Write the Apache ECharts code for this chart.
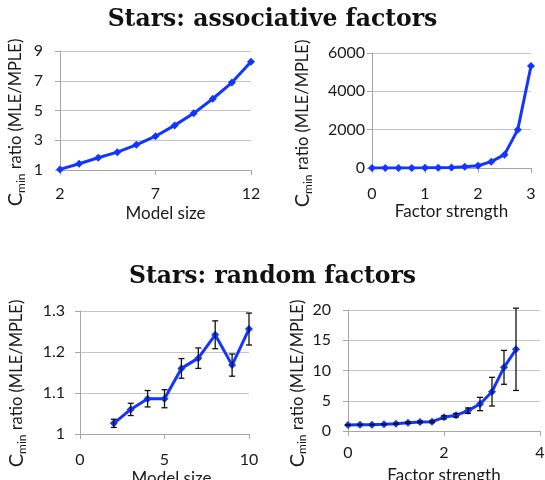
<!DOCTYPE html>
<html>
<head>
<meta charset="utf-8">
<script src="https://cdn.jsdelivr.net/npm/echarts@6/dist/echarts.min.js"></script>
<style>
html,body{margin:0;padding:0;background:#fff;}
#c{width:545px;height:480px;}
</style>
</head>
<body>
<div id="c"></div>
<script>
// ---- data ----
const titles = ['Stars: associative factors', 'Stars: random factors'];
const yName = 'C_min ratio (MLE/MPLE)';
const xNameSize = 'Model size';
const xNameStrength = 'Factor strength';

const sizeA = [2, 3, 4, 5, 6, 7, 8, 9, 10, 11, 12];
const ratioA = [1.04, 1.42, 1.82, 2.2, 2.69, 3.27, 4.0, 4.81, 5.79, 6.88, 8.28];

const strengthB = [0, 0.25, 0.5, 0.75, 1, 1.25, 1.5, 1.75, 2, 2.25, 2.5, 2.75, 3];
const ratioB = [1, 2, 3, 5, 8, 15, 30, 60, 120, 330, 696, 2000, 5320];

const sizeC = [2, 3, 4, 5, 6, 7, 8, 9, 10];
const ratioC = [1.026, 1.060, 1.086, 1.086, 1.160, 1.185, 1.242, 1.168, 1.256];
const errC = [0.010, 0.015, 0.020, 0.022, 0.024, 0.025, 0.034, 0.027, 0.039];

const strengthD = [0, 0.25, 0.5, 0.75, 1, 1.25, 1.5, 1.75, 2, 2.25, 2.5, 2.75, 3, 3.25, 3.5];
const ratioD = [1.0, 1.05, 1.05, 1.1, 1.2, 1.38, 1.49, 1.54, 2.26, 2.59, 3.36, 4.46, 6.5, 10.52, 13.5];
const errD = [0.05, 0.05, 0.05, 0.05, 0.08, 0.1, 0.12, 0.15, 0.25, 0.3, 0.45, 1.1, 2.37, 2.8, 6.8];

// ---- styles ----
const LINE = '#1236ff';
const TXT = '#1a1a1a';
const FONT = 'Lato';
const GRIDC = '#c4c4c4';
const AXISC = '#a6a6a6';

const chart = echarts.init(document.getElementById('c'), null, {renderer: 'canvas'});

function pairs(xs, ys) { return xs.map((x, i) => [x, ys[i]]); }
function errPairs(xs, ys, es) { return xs.map((x, i) => [x, ys[i] - es[i], ys[i] + es[i]]); }
function plain(v) { return String(Math.round(v * 1000) / 1000); }

function yNameRich() {
  const parts = yName.split('_');
  const sub = parts[1].split(' ')[0];
  const rest = parts[1].slice(sub.length);
  return '{c|' + parts[0] + '}{s|' + sub + '}{r|' + rest + '}';
}

function xAxis(idx, min, max, interval, name, margin, nameGap, padLeft) {
  return {
    gridIndex: idx, type: 'value', min: min, max: max, interval: interval,
    name: name, nameLocation: 'middle', nameGap: nameGap,
    nameTextStyle: {fontFamily: FONT, fontSize: 17, color: TXT, padding: [0, 0, 0, padLeft]},
    axisLine: {show: true, lineStyle: {color: AXISC, width: 1}},
    axisTick: {show: true, inside: false, length: 5, lineStyle: {color: AXISC}},
    splitLine: {show: false},
    axisLabel: {fontFamily: FONT, fontSize: 16, color: TXT, margin: margin, formatter: plain}
  };
}
function yAxis(idx, min, max, interval, margin, nameGap, padRight) {
  return {
    gridIndex: idx, type: 'value', min: min, max: max, interval: interval,
    name: yNameRich(), nameLocation: 'middle', nameGap: nameGap, nameRotate: 90,
    nameTextStyle: {
      fontFamily: FONT, color: TXT, padding: [0, padRight, 0, 0],
      rich: {
        c: {fontFamily: FONT, fontSize: 20, color: TXT, lineHeight: 22},
        s: {fontFamily: FONT, fontSize: 12, color: TXT, lineHeight: 11, verticalAlign: 'bottom'},
        r: {fontFamily: FONT, fontSize: 16.5, color: TXT, lineHeight: 22}
      }
    },
    axisLine: {show: true, lineStyle: {color: AXISC, width: 1}},
    axisTick: {show: true, inside: false, length: 5, lineStyle: {color: AXISC}},
    splitLine: {show: true, lineStyle: {color: GRIDC, width: 1}},
    axisLabel: {fontFamily: FONT, fontSize: 16, color: TXT, margin: margin, formatter: plain}
  };
}
function lineSeries(idx, data) {
  return {
    type: 'line', xAxisIndex: idx, yAxisIndex: idx, data: data,
    symbol: 'diamond', symbolSize: 8, showSymbol: true,
    lineStyle: {color: LINE, width: 3},
    itemStyle: {color: LINE},
    z: 3, animation: false
  };
}
function errSeries(idx, data) {
  return {
    type: 'custom', xAxisIndex: idx, yAxisIndex: idx, data: data,
    encode: {x: 0, y: [1, 2]}, z: 4, animation: false, silent: true,
    renderItem: function (params, api) {
      const x = api.value(0);
      const lo = api.coord([x, api.value(1)]);
      const hi = api.coord([x, api.value(2)]);
      const cap = 3;
      const st = {stroke: '#111', lineWidth: 1.3};
      return {
        type: 'group',
        children: [
          {type: 'line', shape: {x1: lo[0], y1: lo[1], x2: hi[0], y2: hi[1]}, style: st},
          {type: 'line', shape: {x1: lo[0] - cap, y1: lo[1], x2: lo[0] + cap, y2: lo[1]}, style: st},
          {type: 'line', shape: {x1: hi[0] - cap, y1: hi[1], x2: hi[0] + cap, y2: hi[1]}, style: st}
        ]
      };
    }
  };
}

const titleStyle = {fontFamily: 'DejaVu Serif', fontWeight: 'bold', fontSize: 23.5, color: '#111'};

chart.setOption({
  animation: false,
  backgroundColor: '#fff',
  title: [
    {text: titles[0], left: 'center', top: 3, textStyle: titleStyle},
    {text: titles[1], left: 'center', top: 260, textStyle: titleStyle}
  ],
  grid: [
    {left: 60, top: 51, width: 191, height: 119, containLabel: false, outerBoundsMode: 'none'},
    {left: 372, top: 53, width: 159, height: 115, containLabel: false, outerBoundsMode: 'none'},
    {left: 80, top: 311, width: 169, height: 123, containLabel: false, outerBoundsMode: 'none'},
    {left: 348, top: 310, width: 192, height: 121, containLabel: false, outerBoundsMode: 'none'}
  ],
  xAxis: [
    xAxis(0, 2, 12, 5, xNameSize, 16, 35, 20),
    xAxis(1, 0, 3, 1, xNameStrength, 18, 34, 0),
    xAxis(2, 0, 10, 5, xNameSize, 18, 36, 14),
    xAxis(3, 0, 4, 2, xNameStrength, 14, 36, 0)
  ],
  yAxis: [
    yAxis(0, 1, 9, 2, 17, 33, 24),
    yAxis(1, 0, 6000, 2000, 7, 58, 26),
    yAxis(2, 1, 1.3, 0.1, 15, 52, 22),
    yAxis(3, 0, 20, 5, 17, 36, 26)
  ],
  series: [
    lineSeries(0, pairs(sizeA, ratioA)),
    lineSeries(1, pairs(strengthB, ratioB)),
    lineSeries(2, pairs(sizeC, ratioC)),
    errSeries(2, errPairs(sizeC, ratioC, errC)),
    lineSeries(3, pairs(strengthD, ratioD)),
    errSeries(3, errPairs(strengthD, ratioD, errD))
  ]
});
</script>
</body>
</html>
